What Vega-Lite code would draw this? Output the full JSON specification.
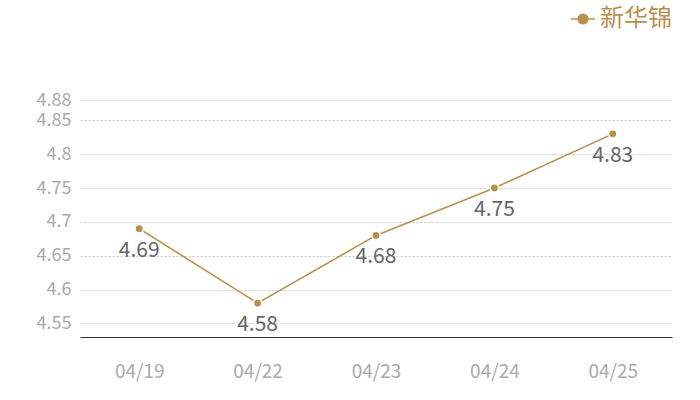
{
  "$schema": "https://vega.github.io/schema/vega-lite/v6.json",
  "width": 592,
  "height": 237,
  "autosize": {"type": "none"},
  "padding": {"left": 80, "top": 100, "right": 28, "bottom": 63},
  "background": "white",
  "config": {
    "font": "Noto Sans CJK SC",
    "view": {"stroke": null}
  },
  "data": {
    "values": [
      {"date": "04/19", "value": 4.69, "series": "新华锦"},
      {"date": "04/22", "value": 4.58, "series": "新华锦"},
      {"date": "04/23", "value": 4.68, "series": "新华锦"},
      {"date": "04/24", "value": 4.75, "series": "新华锦"},
      {"date": "04/25", "value": 4.83, "series": "新华锦"}
    ]
  },
  "encoding": {
    "x": {
      "field": "date", "type": "ordinal",
      "scale": {"type": "point", "padding": 0.5},
      "axis": {
        "title": null, "labelAngle": 0, "ticks": false,
        "domainColor": "#333", "domainWidth": 1,
        "labelColor": "#aaa", "labelFontSize": 19, "labelPadding": 25,
        "grid": false
      }
    },
    "y": {
      "field": "value", "type": "quantitative",
      "scale": {"domain": [4.53, 4.88], "nice": false, "zero": false},
      "axis": {
        "title": null, "domain": false, "ticks": false,
        "values": [4.55, 4.6, 4.65, 4.7, 4.75, 4.8, 4.85, 4.88],
        "format": "~g",
        "labelColor": "#aaa", "labelFontSize": 18, "labelPadding": 9,
        "gridColor": "#c8c8c8", "gridDash": [2, 2], "gridWidth": 1
      }
    },
    "color": {
      "field": "series", "type": "nominal",
      "scale": {"range": ["#B8904E"]},
      "legend": {
        "title": null,
        "orient": "none",
        "legendX": 490,
        "legendY": -94,
        "symbolType": "M-1,0H1M0.4,0A0.4,0.4 0 1,1 -0.4,0A0.4,0.4 0 1,1 0.4,0Z",
        "symbolSize": 576,
        "symbolStrokeWidth": 1.5,
        "symbolFillColor": "#B8904E",
        "labelColor": "#B8904E",
        "labelFontSize": 24,
        "labelOffset": 4,
        "labelLimit": 120
      }
    }
  },
  "layer": [
    {"mark": {"type": "line", "strokeWidth": 1.6}},
    {"mark": {"type": "point", "filled": true, "size": 70, "opacity": 1, "stroke": "white", "strokeWidth": 1.5}},
    {
      "mark": {"type": "text", "dy": 22, "fontSize": 21, "color": "#666"},
      "encoding": {"text": {"field": "value", "type": "quantitative", "format": "~g"}, "color": {"value": "#666"}}
    }
  ]
}
